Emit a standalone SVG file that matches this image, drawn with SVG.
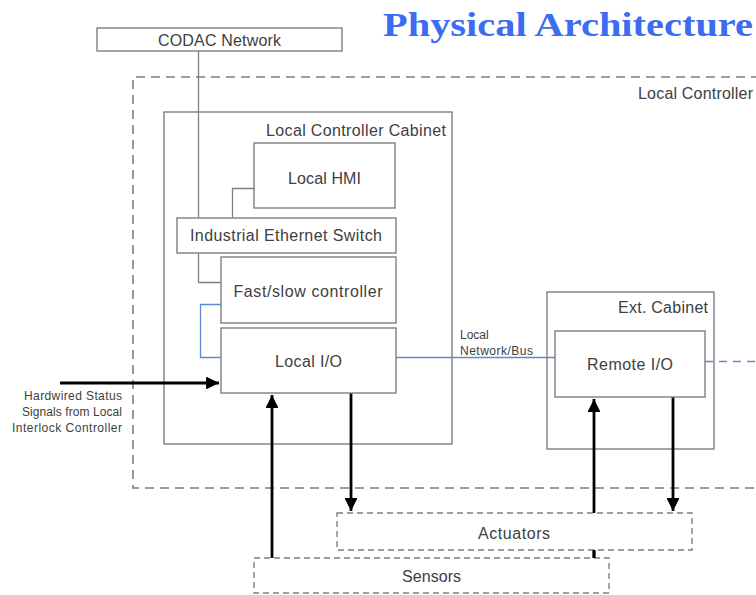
<svg xmlns="http://www.w3.org/2000/svg" width="756" height="595" viewBox="0 0 756 595">
  <defs>
    <style>
      .box { fill: #ffffff; stroke: #7f7f7f; stroke-width: 1.4; }
      .frame { fill: none; stroke: #7f7f7f; stroke-width: 1.4; }
      .dashbox { fill: #ffffff; stroke: #7f7f7f; stroke-width: 1.4; stroke-dasharray: 6 4; }
      .outer { fill: none; stroke: #7f7f7f; stroke-width: 1.6; stroke-dasharray: 9 6; }
      .lbl { font-family: "Liberation Sans", Arial, sans-serif; font-size: 16px; fill: #404040; }
      .mid { text-anchor: middle; }
      .end { text-anchor: end; }
      .small { font-family: "Liberation Sans", Arial, sans-serif; font-size: 12px; fill: #404040; }
      .wire { fill: none; stroke: #7f7f7f; stroke-width: 1.3; }
      .bus { fill: none; stroke: #5b8bd4; stroke-width: 1.3; }
      .busdash { fill: none; stroke: #5b8bd4; stroke-width: 1.3; stroke-dasharray: 8 6; }
      .sig { fill: none; stroke: #000000; stroke-width: 2.8; }
      .title { font-family: "Century Schoolbook L", "Liberation Serif", serif; font-weight: bold; font-size: 33px; fill: #3b6cf2; }
    </style>
    <marker id="arrow" viewBox="0 0 10 10" refX="10" refY="5" markerWidth="4.6" markerHeight="4.6" orient="auto" markerUnits="strokeWidth">
      <path d="M0,0 L10,5 L0,10 Z" fill="#000000"/>
    </marker>
  </defs>

  <rect width="756" height="595" fill="#ffffff"/>

  <text class="title" x="383" y="36" textLength="370" lengthAdjust="spacingAndGlyphs">Physical Architecture</text>

  <!-- Local controller boundary -->
  <g id="local-controller">
    <path class="outer" d="M760,77 H133 V488 H760"/>
    <text class="lbl end" x="753" y="99" textLength="115">Local Controller</text>
  </g>

  <g id="codac-network">
    <rect class="box" x="97" y="28" width="245" height="23"/>
    <text class="lbl mid" x="219.5" y="46" textLength="123">CODAC Network</text>
  </g>

  <g id="local-controller-cabinet">
    <rect class="frame" x="164" y="112" width="288" height="332"/>
    <text class="lbl end" x="446" y="136" textLength="180">Local Controller Cabinet</text>
  </g>

  <g id="ext-cabinet">
    <rect class="frame" x="547" y="292" width="167" height="157"/>
    <text class="lbl end" x="708" y="313" textLength="90">Ext. Cabinet</text>
  </g>

  <!-- Connectors -->
  <g id="connectors">
    <path class="wire" d="M198.5,51 V218"/>
    <path class="wire" d="M232.5,218 V188.5 H254"/>
    <path class="wire" d="M198.5,253 V282.5 H221"/>
    <path class="bus" d="M221,304.5 H200.5 V357.5 H221"/>
    <path class="bus" d="M396,357.5 H555"/>
    <path class="busdash" d="M705,361.5 H760"/>
    <path class="sig" d="M60,383 H219" marker-end="url(#arrow)"/>
    <path class="sig" d="M272,558 V395" marker-end="url(#arrow)"/>
    <path class="sig" d="M351,393 V511" marker-end="url(#arrow)"/>
    <path class="sig" d="M594,558 V399" marker-end="url(#arrow)"/>
    <path class="sig" d="M673,397 V511" marker-end="url(#arrow)"/>
    <text class="small" x="460" y="339">Local</text>
    <text class="small" x="460" y="355" textLength="73">Network/Bus</text>
  </g>

  <g id="local-hmi">
    <rect class="box" x="254" y="143" width="141" height="65"/>
    <text class="lbl mid" x="324.5" y="184" textLength="73">Local HMI</text>
  </g>

  <g id="ethernet-switch">
    <rect class="box" x="177" y="218" width="219" height="35"/>
    <text class="lbl mid" x="286" y="241" textLength="192">Industrial Ethernet Switch</text>
  </g>

  <g id="fast-slow-controller">
    <rect class="box" x="221" y="257" width="175" height="66"/>
    <text class="lbl mid" x="308" y="297" textLength="149">Fast/slow controller</text>
  </g>

  <g id="local-io">
    <rect class="box" x="221" y="328" width="175" height="65"/>
    <text class="lbl mid" x="308.5" y="367" textLength="67">Local I/O</text>
  </g>

  <g id="remote-io">
    <rect class="box" x="555" y="331" width="150" height="66"/>
    <text class="lbl mid" x="630" y="370" textLength="86">Remote I/O</text>
  </g>

  <g id="hardwired-signals">
    <text class="small end" x="122" y="400" textLength="98">Hardwired Status</text>
    <text class="small end" x="122" y="416" textLength="100">Signals from Local</text>
    <text class="small end" x="122" y="432" textLength="110">Interlock Controller</text>
  </g>

  <g id="actuators">
    <rect class="dashbox" x="337" y="513" width="355" height="37"/>
    <text class="lbl mid" x="514" y="539" textLength="72">Actuators</text>
  </g>

  <g id="sensors">
    <rect class="dashbox" x="254" y="558" width="355" height="35"/>
    <text class="lbl mid" x="431.5" y="582" textLength="59">Sensors</text>
  </g>

  <!-- signal line continuing through the actuators box down to the sensors -->
  <path class="sig" d="M594,550 V558"/>
</svg>
